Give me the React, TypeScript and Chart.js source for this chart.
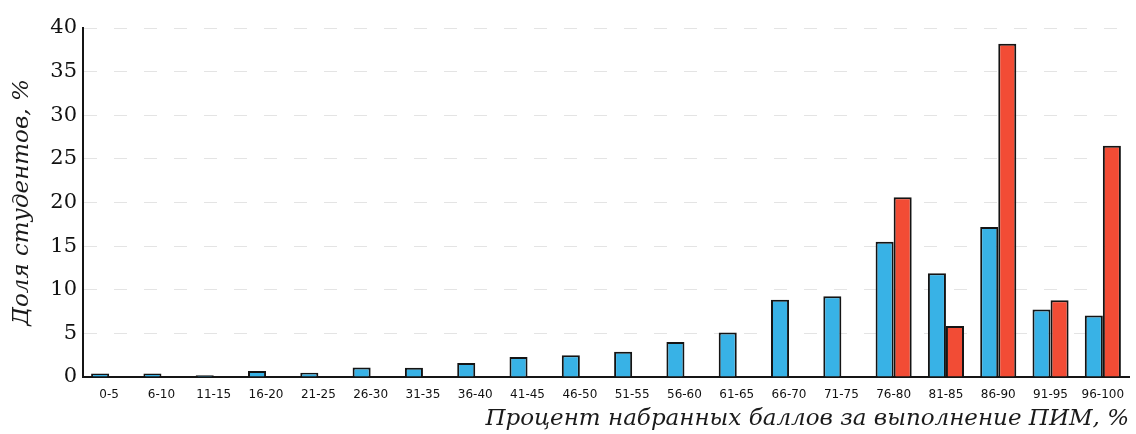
import React, { useEffect, useRef } from "react";
import { Chart, registerables } from "chart.js";

Chart.register(...registerables);

const categories = [
  "0-5", "6-10", "11-15", "16-20", "21-25", "26-30", "31-35", "36-40", "41-45", "46-50",
  "51-55", "56-60", "61-65", "66-70", "71-75", "76-80", "81-85", "86-90", "91-95", "96-100",
];

const blueValues = [
  0.4, 0.4, 0.2, 0.7, 0.5, 1.1, 1.05, 1.6, 2.3, 2.5,
  2.9, 4.0, 5.1, 8.85, 9.25, 15.5, 11.9, 17.2, 7.75, 7.05,
];

const redValues = [
  0, 0, 0, 0, 0, 0, 0, 0, 0, 0,
  0, 0, 0, 0, 0, 20.6, 5.85, 38.2, 8.8, 26.5,
];

const yTicks = [0, 5, 10, 15, 20, 25, 30, 35, 40];

const yTitle = "Доля студентов, %";
const xTitle = "Процент набранных баллов за выполнение ПИМ, %";

export default function App() {
  const ref = useRef<HTMLCanvasElement | null>(null);

  useEffect(() => {
    document.body.style.margin = "0";
    const canvas = ref.current;
    if (!canvas) return;
    const chart = new Chart(canvas, {
      type: "bar",
      data: {
        labels: categories,
        datasets: [
          {
            data: blueValues,
            backgroundColor: "#38b2e6",
            borderColor: "#141414",
            borderWidth: 2,
            categoryPercentage: 0.69,
            barPercentage: 1,
          },
          {
            data: redValues,
            backgroundColor: "#f24c35",
            borderColor: "#141414",
            borderWidth: 2,
            categoryPercentage: 0.69,
            barPercentage: 1,
          },
        ],
      },
      options: {
        responsive: false,
        animation: false,
        devicePixelRatio: 1,
        layout: { padding: { top: 28, right: 7, left: 0, bottom: 0 } },
        plugins: {
          legend: { display: false },
          tooltip: { enabled: false },
        },
        scales: {
          x: {
            type: "category",
            offset: true,
            grid: { display: false, drawTicks: false },
            border: { display: true, color: "#151515", width: 2 },
            ticks: {
              color: "#111",
              font: { family: "DejaVu Sans", size: 12 },
              padding: 11,
              maxRotation: 0,
              minRotation: 0,
              autoSkip: false,
            },
            title: {
              display: true,
              text: xTitle,
              align: "end",
              color: "#1a1a1a",
              font: { family: "DejaVu Serif", size: 23, style: "italic" },
              padding: { top: 0, bottom: 1 },
            },
            afterFit: (s: any) => {
              s.height = 57;
            },
          },
          y: {
            min: 0,
            max: 40,
            afterBuildTicks: (s: any) => {
              s.ticks = yTicks.map((v) => ({ value: v }));
            },
            grid: { color: "#e4e4e4", lineWidth: 1, drawTicks: false },
            border: { display: true, color: "#151515", width: 2, dash: [13, 17] },
            ticks: {
              color: "#111",
              font: { family: "DejaVu Serif", size: 21 },
              padding: 6,
            },
            title: {
              display: true,
              text: yTitle,
              color: "#1a1a1a",
              font: { family: "DejaVu Serif", size: 23, style: "italic" },
              padding: { top: 8, bottom: 0 },
            },
            afterFit: (s: any) => {
              s.width = 83;
            },
          },
        },
      },
    });
    return () => chart.destroy();
  }, []);

  return (
    <div style={{ position: "absolute", left: 0, top: 0, width: 1136, height: 434, background: "#fff" }}>
      <canvas ref={ref} width={1136} height={434} />
    </div>
  );
}
